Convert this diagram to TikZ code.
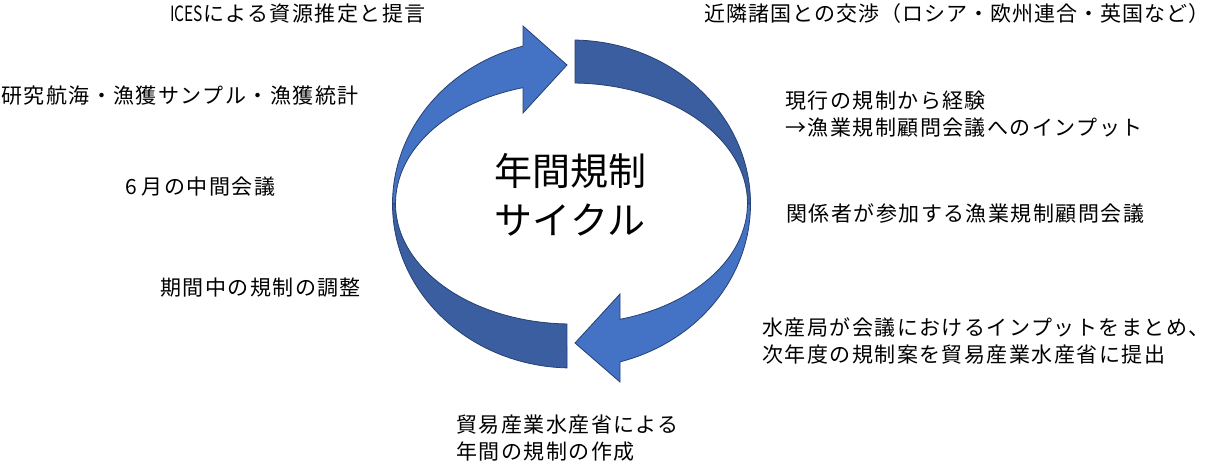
\documentclass[tikz,border=0pt]{standalone}
\usepackage{fontspec}
\usepackage{graphicx}
\newfontfamily\jp[LetterSpace=7]{Noto Sans CJK JP}
\newfontfamily\jpt[LetterSpace=4.8]{Noto Sans CJK JP}
\newfontfamily\jpn{Noto Sans CJK JP}
\definecolor{lightblue}{RGB}{68,114,196}
\definecolor{darkblue}{RGB}{58,94,159}
\definecolor{edgeblue}{RGB}{38,64,115}
\tikzset{
  lightarrow/.style={fill=lightblue, draw=edgeblue, line width=0.8pt, line join=miter},
  darkband/.style={fill=darkblue, draw=edgeblue, line width=0.8pt, line join=miter},
  lbl/.style={anchor=west, inner sep=0pt, align=left, font=\fontsize{21}{27.5}\selectfont\jp, text=black},
  ctr/.style={inner sep=0pt, align=center, font=\fontsize{38}{49}\selectfont\jpn, text=black}
}
\begin{document}
\begin{tikzpicture}[x=1pt,y=-1pt]
\useasboundingbox (0,0) rectangle (1216,464);
% top-left light arrow
\draw[lightarrow] (392.5,204) arc[start angle=180, end angle=254.28, x radius=179, y radius=164]
  -- (523,26) -- (567,65) -- (523,113) -- (523,87.67)
  arc[start angle=254, end angle=180, x radius=176, y radius=120.5] -- cycle;
% top-right dark band
\draw[darkband] (575,40.03) arc[start angle=271.12, end angle=360, x radius=179, y radius=164]
  -- (747.5,203.5) arc[start angle=360, end angle=271.14, x radius=176, y radius=120.5] -- cycle;
% bottom-right light arrow
\draw[lightarrow] (750.5,204) arc[start angle=0, end angle=74.28, x radius=179, y radius=164]
  -- (620,382) -- (575,343) -- (620,294) -- (620,319.3)
  arc[start angle=74, end angle=0, x radius=176, y radius=120.5] -- cycle;
% bottom-left dark band
\draw[darkband] (567,367.9) arc[start angle=91.44, end angle=180, x radius=179, y radius=164]
  -- (395.5,203.5) arc[start angle=180, end angle=91.47, x radius=176, y radius=120.5] -- cycle;

\node[ctr] (center) at (570,195) {年間規制\\サイクル};

\node[lbl] (ices) at (170,14) {{\jpn\scalebox{0.74}[1]{ICES}}による資源推定と提言};
\node[lbl, font=\fontsize{21}{27.5}\selectfont\jpt] (nego) at (704,14) {近隣諸国との交渉（ロシア・欧州連合・英国など）};
\node[lbl] (survey) at (1,96) {研究航海・漁獲サンプル・漁獲統計};
\node[lbl] (june) at (125,187) {{\jpn 6}\kern5pt 月の中間会議};
\node[lbl] (adjust) at (160,288) {期間中の規制の調整};
\node[lbl] (exper) at (785,114) {現行の規制から経験\\→漁業規制顧問会議へのインプット};
\node[lbl] (advis) at (786,214) {関係者が参加する漁業規制顧問会議};
\node[lbl] (bureau) at (762,341) {水産局が会議におけるインプットをまとめ、\\次年度の規制案を貿易産業水産省に提出};
\node[lbl] (minis) at (456,438) {貿易産業水産省による\\年間の規制の作成};
\end{tikzpicture}
\end{document}
